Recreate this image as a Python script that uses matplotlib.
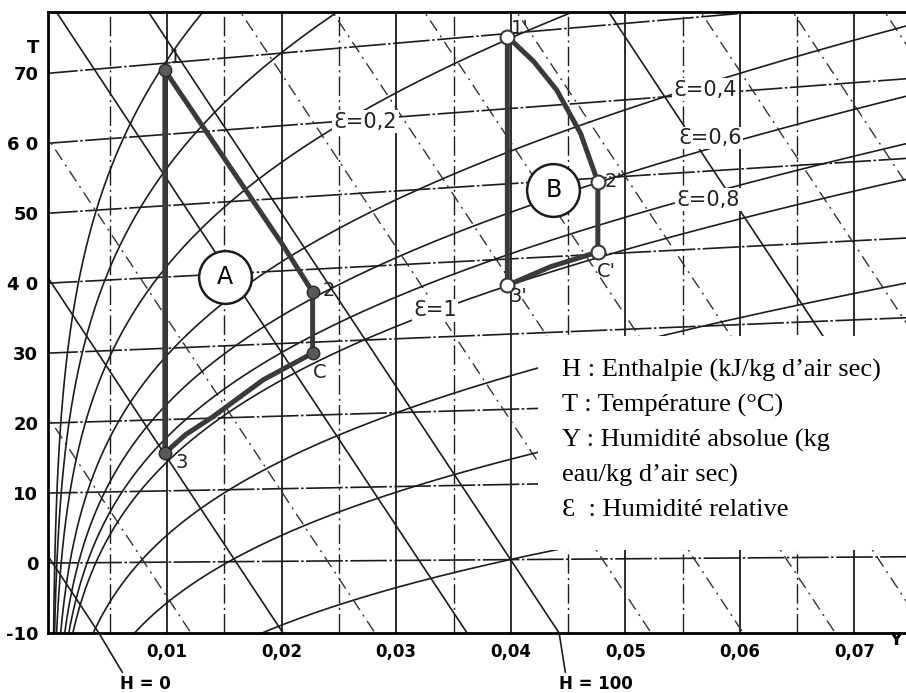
import matplotlib.pyplot as plt
import numpy as np

P_ATM = 101.3  # kPa

# families of lines of the humid-air diagram
isotherms = [0, 10, 20, 30, 40, 50, 60, 70]                  # °C
enth_solid = [0, 40, 80, 100, 200]                           # kJ/kg air sec
enth_dashdot = [20, 60, 120, 140, 160, 180, 220, 240, 260]
eps_values = [0.05, 0.1, 0.2, 0.4, 0.6, 0.8, 1.0, 2.0, 4.0, 10.0]
y_major = [0.01, 0.02, 0.03, 0.04, 0.05, 0.06, 0.07]
y_minor = [0.005, 0.015, 0.025, 0.035, 0.045, 0.055, 0.065]

t_ticks = [70, 60, 50, 40, 30, 20, 10, 0, -10]
t_ticklabels = ["70", "6 0", "50", "4 0", "30", "20", "10", "0", "-10"]
y_ticklabels = ["0,01", "0,02", "0,03", "0,04", "0,05", "0,06", "0,07"]

# cycle A : 1 -> 2 -> C -> 3 -> 1
cycA_Y = [0.0098, 0.0200, 0.0227, 0.0227, 0.0184, 0.0140, 0.0116, 0.0098, 0.0098]
cycA_T = [69.0, 43.8, 36.9, 28.5, 25.1, 20.2, 17.8, 15.3, 69.0]
ptsA = ["1", "2", "C", "3"]
ptsA_Y = [0.0098, 0.0227, 0.0227, 0.0098]
ptsA_T = [69.0, 36.9, 28.5, 15.3]

# cycle B : 1' -> 2' -> C' -> 3' -> 1'
cycB_Y = [0.0397, 0.0420, 0.0440, 0.0461, 0.0476, 0.0476, 0.0435, 0.0397, 0.0397]
cycB_T = [69.6, 66.0, 62.0, 56.0, 49.5, 40.3, 38.7, 36.5, 69.6]
ptsB = ["1'", "2'", "C'", "3'"]
ptsB_Y = [0.0397, 0.0476, 0.0476, 0.0397]
ptsB_T = [69.6, 49.5, 40.3, 36.5]

legend_lines = [
    "H : Enthalpie (kJ/kg d\u2019air sec)",
    "T : Température (°C)",
    "Y : Humidité absolue (kg",
    "eau/kg d\u2019air sec)",
    "\u0190  : Humidité relative",
]


def vert(Y, T):
    # oblique ordinate of the diagram: isotherms rise slowly with Y
    Y = np.asarray(Y, dtype=float)
    T = np.asarray(T, dtype=float)
    return T * (1 + 1.85 * Y) + 12 * Y


def temp_at_enthalpy(h, Y):
    return (h - 2501 * Y) / (1.006 + 1.86 * Y)


def psat(T):
    return 0.61094 * np.exp(17.625 * T / (T + 243.04))


ink = "#1c1c1c"
fig = plt.figure(figsize=(9.06, 6.93), dpi=100)
ax = fig.add_axes([48 / 906, 60 / 693, 858 / 906, 621 / 693])
ax.set_xlim(-0.0004, 0.0745)
ax.set_ylim(-10, 78.7)

Yf = np.linspace(-0.001, 0.08, 500)

# constant Y lines
for y in y_major:
    ax.axvline(y, color=ink, lw=1.3, zorder=1)
for y in y_minor:
    ax.axvline(y, color=ink, lw=1.0, ls=(0, (14, 3, 1.5, 3)), zorder=1)

# isotherms
for t in isotherms:
    ax.plot(Yf, vert(Yf, t), color=ink, lw=1.2, ls=(0, (22, 1.5, 1.5, 1.5)), zorder=1)

# iso-enthalpy lines
for h in enth_solid:
    ax.plot(Yf, vert(Yf, temp_at_enthalpy(h, Yf)), color=ink, lw=1.2, zorder=1)
for h in enth_dashdot:
    ax.plot(Yf, vert(Yf, temp_at_enthalpy(h, Yf)), color="#333333", lw=1.0,
            ls=(0, (9, 4, 1.5, 4)), zorder=1)

# relative humidity curves
Tf = np.linspace(-12, 100, 800)
for e in eps_values:
    pv = e * psat(Tf)
    ok = pv < 0.9 * P_ATM
    Ye = 0.622 * pv[ok] / (P_ATM - pv[ok])
    ax.plot(Ye, vert(Ye, Tf[ok]), color=ink, lw=1.2, zorder=1)

# labels of the humidity curves (placed in the Y / ordinate frame)
eps_pos = [(0.0273, 63.0), (0.0570, 67.6), (0.0574, 60.7), (0.0572, 51.9), (0.0334, 36.1)]
for txt, (px, py) in zip(["\u0190=0,2", "\u0190=0,4", "\u0190=0,6", "\u0190=0,8", "\u0190=1"], eps_pos):
    ax.text(px, py, txt, fontsize=15, ha="center", va="center", color="#222222", zorder=3,
            bbox=dict(fc="white", ec="none", pad=1.0))

# white panel for the notation
ax.add_patch(plt.Rectangle((0.571, 0.134), 0.45, 0.344, transform=ax.transAxes,
                           fc="white", ec="none", zorder=3))
for i, line in enumerate(legend_lines):
    ax.text(0.599, 0.4235 - i * 0.0565, line, transform=ax.transAxes, fontsize=19,
            family=["Liberation Serif", "DejaVu Serif"], ha="left", va="center", zorder=5)

# cycles
ax.plot(cycA_Y, vert(cycA_Y, cycA_T), color="#3a3a3a", lw=3.6, zorder=4,
        solid_joinstyle="round", solid_capstyle="round")
ax.plot(cycB_Y, vert(cycB_Y, cycB_T), color="#3a3a3a", lw=3.6, zorder=4,
        solid_joinstyle="round", solid_capstyle="round")
ax.plot(ptsA_Y, vert(ptsA_Y, ptsA_T), "o", ms=9, mfc="#595959", mec="#2a2a2a", zorder=5)
ax.plot(ptsB_Y, vert(ptsB_Y, ptsB_T), "o", ms=10, mfc="white", mec="#3a3a3a", mew=1.5, zorder=5)

offA = [(7, 9), (12, 1), (5, -14), (12, -7)]
offB = [(9, 6), (11, 0), (6, -14), (8, -8)]
for name, y, t, off in zip(ptsA + ptsB, ptsA_Y + ptsB_Y, ptsA_T + ptsB_T, offA + offB):
    ax.annotate(name, (y, vert(y, t)), xytext=off, textcoords="offset points",
                fontsize=14, ha="center", va="center", color="#222222", zorder=6)

# zone markers
for name, (zx, zy) in zip(["A", "B"], [(0.01507, 40.9), (0.04371, 53.3)]):
    ax.plot(zx, zy, "o", ms=38, mfc="white", mec=ink, mew=1.8, zorder=4)
    ax.text(zx, zy, name, fontsize=17, ha="center", va="center", zorder=5)

# enthalpy labels below the frame
Yb = np.linspace(0.0, 0.06, 2000)
for h, lab_y in [(0, 0.0081), (100, 0.0474)]:
    ub = vert(Yb, temp_at_enthalpy(h, Yb))
    y_at_bottom = np.interp(-10, ub[::-1], Yb[::-1])
    ax.annotate("H = %d" % h, xy=(y_at_bottom, -10), xytext=(lab_y, -17.3),
                fontsize=12, fontweight="bold", ha="center", va="center",
                annotation_clip=False,
                arrowprops=dict(arrowstyle="-", color=ink, lw=1.2, shrinkA=0, shrinkB=0,
                                relpos=(0.1, 0.9)))

# axes frame and ticks
ax.spines["right"].set_visible(False)
for s in ["left", "top", "bottom"]:
    ax.spines[s].set_linewidth(2.0)
    ax.spines[s].set_color("black")
ax.set_yticks(t_ticks)
ax.set_yticklabels(t_ticklabels, fontsize=13, fontweight="bold")
ax.set_xticks(y_major)
ax.set_xticklabels(y_ticklabels, fontsize=12, fontweight="bold")
ax.tick_params(length=0, pad=7)
ax.text(-0.0175, 0.942, "T", transform=ax.transAxes, fontsize=13, fontweight="bold",
        ha="center", va="center")
ax.text(0.996, -0.012, "Y", transform=ax.transAxes, fontsize=13, fontweight="bold",
        ha="right", va="center", clip_on=False)

fig.savefig("out.png", dpi=100)
